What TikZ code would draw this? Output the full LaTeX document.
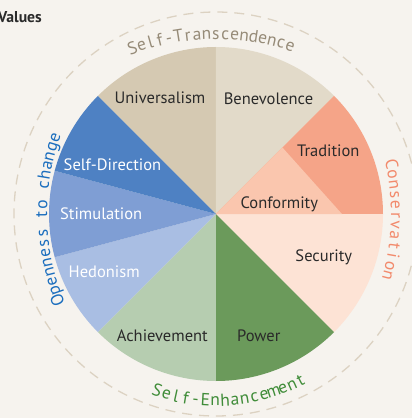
\documentclass[tikz,border=0pt]{standalone}
\usepackage{fontspec}
\setmainfont{PT Sans}

\definecolor{bgcream}{HTML}{F6F3EE}
\definecolor{ringdash}{HTML}{DCD2C2}
\definecolor{univ}{HTML}{D5C9B2}
\definecolor{bene}{HTML}{E2DAC9}
\definecolor{trad}{HTML}{F5A488}
\definecolor{conf}{HTML}{FAC6AE}
\definecolor{secu}{HTML}{FDE3D5}
\definecolor{powr}{HTML}{6B9A5B}
\definecolor{achv}{HTML}{B6CDB0}
\definecolor{hedo}{HTML}{A9BEE3}
\definecolor{stim}{HTML}{7F9ED4}
\definecolor{sdir}{HTML}{4E81C3}
\definecolor{labeldark}{HTML}{2A2A2A}
\definecolor{transtext}{HTML}{968B78}
\definecolor{constext}{HTML}{F28A6C}
\definecolor{enhtext}{HTML}{3F8C38}
\definecolor{opentext}{HTML}{1B6EBE}

\newcommand\ringsize{\fontsize{17.5}{20}\selectfont}

\tikzset{
	sectorlabel/.style={anchor=base, inner sep=0pt, font=\fontsize{16.5}{20}\selectfont, text=labeldark},
	lightlabel/.style={sectorlabel, text=white},
	ringchar/.style={anchor=base, inner sep=0pt, font=\ringsize},
}

% #1,#2 centre, #3 radius, #4 start angle, #5 end angle, #6 colour, #7 letters
\newcommand\ringtext[7]{%
	\gdef\rtw{0}\gdef\rtn{0}%
	\foreach \ch in {#7}{%
		\setbox0=\hbox{\ringsize\ch}%
		\pgfmathsetmacro\rtnew{\rtw+\the\wd0}\xdef\rtw{\rtnew}%
		\pgfmathsetmacro\rtnew{\rtn+1}\xdef\rtn{\rtnew}%
	}%
	\pgfmathsetmacro\rtdir{(#5>#4)?1:-1}%
	\pgfmathsetmacro\rtgap{(abs(#5-#4)*pi/180*#3-\rtw)/(\rtn-1)}%
	\xdef\rta{#4}%
	\foreach \ch in {#7}{%
		\setbox0=\hbox{\ringsize\ch}%
		\pgfmathsetmacro\rtmid{\rta+\rtdir*\the\wd0/2/#3*180/pi}%
		\path (#1,#2) ++(\rtmid:#3) node[ringchar, text=#6, rotate=\rtmid+\rtdir*90] {\ch};
		\pgfmathsetmacro\rtnew{\rta+\rtdir*(\the\wd0+\rtgap)/#3*180/pi}\xdef\rta{\rtnew}%
	}%
}

\begin{document}
\begin{tikzpicture}[x=1pt,y=1pt]
	\useasboundingbox[fill=bgcream] (-216,-204) rectangle (196,214);
	\node[anchor=base east, inner sep=0pt, font=\fontsize{15.7}{18}\selectfont\bfseries, text=labeldark] (values) at (-174,191) {Values};
	%
	\draw[ringdash, line width=1.3pt, dash pattern=on 10pt off 7pt] (0,0) circle (202);
	\foreach \from/\to/\col in {90/135/univ, 45/90/bene, 0/45/trad, -45/0/secu, -90/-45/powr, -135/-90/achv, 195/225/hedo, 165/195/stim, 135/165/sdir}
		\fill[\col] (0,0) -- (\from:167) arc[start angle=\from, end angle=\to, radius=167] -- cycle;
	\fill[conf] (0,0) -- (45:94) -- (126,0) -- cycle;
	%
	\node[sectorlabel] (universalism) at (-56,110.7) {Universalism};
	\node[sectorlabel] (benevolence) at (52.5,109.7) {Benevolence};
	\node[sectorlabel] (tradition) at (112.3,58) {Tradition};
	\node[sectorlabel] (conformity) at (63.3,6) {Conformity};
	\node[sectorlabel] (security) at (107.8,-47.7) {Security};
	\node[sectorlabel] (power) at (42.8,-127) {Power};
	\node[sectorlabel] (achievement) at (-53.7,-127) {Achievement};
	\node[lightlabel] (hedonism) at (-111.8,-63.7) {Hedonism};
	\node[lightlabel] (stimulation) at (-114.8,-5) {Stimulation};
	\node[lightlabel] (selfdirection) at (-103.5,44) {Self-Direction};
	%
	\ringtext{0}{-60}{235}{110.3}{72.0}{transtext}{S,e,l,f,-,T,r,a,n,s,c,e,n,d,e,n,c,e}
	\ringtext{-60}{0}{235}{11.9}{-14.9}{constext}{C,o,n,s,e,r,v,a,t,i,o,n}
	\ringtext{0}{0}{192}{251.6}{297}{enhtext}{S,e,l,f,-,E,n,h,a,n,c,e,m,e,n,t}
	\ringtext{60}{0}{229}{201.5}{160.9}{opentext}{O,p,e,n,n,e,s,s,~,t,o,~,c,h,a,n,g,e}
\end{tikzpicture}
\end{document}
